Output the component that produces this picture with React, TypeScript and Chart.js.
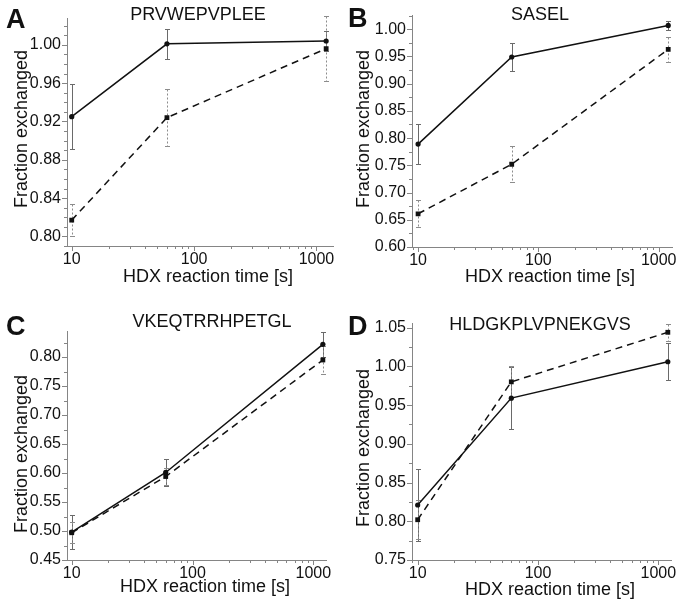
import React, { useEffect, useRef } from "react";
import { Chart, registerables } from "chart.js";

Chart.register(...registerables);

// ---------- data ----------
const times = [10, 60, 1200];
const panelLetters = ["A", "B", "C", "D"];
const peptides = ["PRVWEPVPLEE", "SASEL", "VKEQTRRHPETGL", "HLDGKPLVPNEKGVS"];
const xAxisTitle = "HDX reaction time [s]";
const yAxisTitle = "Fraction exchanged";

const solidA = [0.925, 1.001, 1.004];
const solidErrA = [0.034, 0.016, 0.010];
const dashA = [0.817, 0.924, 0.996];
const dashErrA = [0.017, 0.030, 0.034];

const solidB = [0.789, 0.949, 1.007];
const solidErrB = [0.037, 0.026, 0.009];
const dashB = [0.661, 0.752, 0.963];
const dashErrB = [0.025, 0.033, 0.023];

const solidC = [0.498, 0.601, 0.822];
const solidErrC = [0.029, 0.024, 0.022];
const dashC = [0.497, 0.594, 0.795];
const dashErrC = [0.018, 0.015, 0.024];

const solidD = [0.821, 0.959, 1.006];
const solidErrD = [0.046, 0.040, 0.024];
const dashD = [0.802, 0.980, 1.044];
const dashErrD = [0.025, 0.020, 0.011];

const yMins = [0.79, 0.6, 0.45, 0.75];
const yMaxs = [1.028, 1.025, 0.845, 1.056];
const yMajorSteps = [0.04, 0.05, 0.05, 0.05];
const yMinorSteps = [0.01, 0.025, 0.025, 0.025];
const xMins = [9.15, 8.9, 9.14, 8.97];
const xMaxs = [1365, 1290, 1274, 1275];

const solidSeries = [solidA, solidB, solidC, solidD];
const solidErrs = [solidErrA, solidErrB, solidErrC, solidErrD];
const dashSeries = [dashA, dashB, dashC, dashD];
const dashErrs = [dashErrA, dashErrB, dashErrC, dashErrD];

// ---------- layout / style ----------
const FF = "'Liberation Sans', Arial, Helvetica, sans-serif";
const TEXT = "#111111";
const AXIS = "#858585";

const LAYOUTS = [
  { x: 0, y: 0, w: 342, h: 300, left: 67, right: 333, top: 18, bottom: 246, letterX: 6, letterY: 28, titleX: 198, titleY: 15, xtX: 208, xtY: 277, ytX: 22, ytY: 129 },
  { x: 342, y: 0, w: 341, h: 300, left: 70, right: 330, top: 15, bottom: 247, letterX: 6, letterY: 27, titleX: 198, titleY: 15, xtX: 208, xtY: 277, ytX: 22, ytY: 129 },
  { x: 0, y: 300, w: 342, h: 309, left: 67, right: 326, top: 31, bottom: 260, letterX: 6, letterY: 35, titleX: 212, titleY: 22, xtX: 205, xtY: 287, ytX: 22, ytY: 154 },
  { x: 342, y: 300, w: 341, h: 309, left: 70, right: 329, top: 23, bottom: 260, letterX: 6, letterY: 35, titleX: 198, titleY: 25, xtX: 208, xtY: 290, ytX: 22, ytY: 148 },
];

function niceMantissa(v: number) {
  const e = Math.floor(Math.log10(v) + 1e-9);
  const m = v / Math.pow(10, e);
  return { m, ok: Math.abs(m - Math.round(m)) < 1e-6 };
}

function logTicks(min: number, max: number) {
  const out: number[] = [];
  for (let e = Math.floor(Math.log10(min)); e <= Math.ceil(Math.log10(max)); e++) {
    for (let m = 1; m <= 9; m++) {
      const v = m * Math.pow(10, e);
      if (v >= min - 1e-9 && v <= max + 1e-9) out.push(v);
    }
  }
  return out;
}

function linTicks(min: number, max: number, step: number) {
  const out: number[] = [];
  const s = Math.ceil(min / step - 1e-9);
  const e = Math.floor(max / step + 1e-9);
  for (let i = s; i <= e; i++) out.push(Math.round(i * step * 1e6) / 1e6);
  return out;
}

function isMultiple(v: number, step: number) {
  const r = v / step;
  return Math.abs(r - Math.round(r)) < 1e-6;
}

function Panel({ idx }: { idx: number }) {
  const ref = useRef<HTMLCanvasElement>(null);
  const L = LAYOUTS[idx];

  useEffect(() => {
    const canvas = ref.current;
    if (!canvas) return;
    const xmin = xMins[idx];
    const xmax = xMaxs[idx];
    const ymin = yMins[idx];
    const ymax = yMaxs[idx];
    const major = yMajorSteps[idx];
    const minor = yMinorSteps[idx];
    const errs = [solidErrs[idx], dashErrs[idx]];
    const errStyles = [
      { color: "#6a6a6a", dash: [] as number[] },
      { color: "#8c8c8c", dash: [2, 2] },
    ];

    const decor = {
      id: "decor" + idx,
      beforeDatasetsDraw(chart: any) {
        const ctx = chart.ctx;
        const xs = chart.scales.x;
        const ys = chart.scales.y;
        chart.data.datasets.forEach((ds: any, di: number) => {
          const st = errStyles[di];
          ctx.save();
          ctx.strokeStyle = st.color;
          ctx.lineWidth = 1;
          ctx.setLineDash(st.dash);
          ds.data.forEach((p: any, i: number) => {
            const e = errs[di][i];
            const px = Math.round(xs.getPixelForValue(p.x)) + 0.5;
            const yT = Math.round(ys.getPixelForValue(p.y + e)) + 0.5;
            const yB = Math.round(ys.getPixelForValue(p.y - e)) + 0.5;
            ctx.beginPath();
            ctx.moveTo(px, yT);
            ctx.lineTo(px, yB);
            ctx.stroke();
            ctx.setLineDash([]);
            ctx.beginPath();
            ctx.moveTo(px - 2.5, yT);
            ctx.lineTo(px + 2.5, yT);
            ctx.moveTo(px - 2.5, yB);
            ctx.lineTo(px + 2.5, yB);
            ctx.stroke();
            ctx.setLineDash(st.dash);
          });
          ctx.restore();
        });
      },
      afterDraw(chart: any) {
        const ctx = chart.ctx;
        const xs = chart.scales.x;
        const ys = chart.scales.y;
        const area = chart.chartArea;
        ctx.save();
        ctx.strokeStyle = AXIS;
        ctx.lineWidth = 1;
        ctx.beginPath();
        xs.ticks.forEach((t: any) => {
          const { m, ok } = niceMantissa(t.value);
          if (!ok) return;
          const isMajor = Math.abs(m - 1) < 1e-6;
          const px = Math.round(xs.getPixelForValue(t.value)) + 0.5;
          ctx.moveTo(px, area.bottom);
          ctx.lineTo(px, area.bottom + (isMajor ? 5 : 3));
        });
        ys.ticks.forEach((t: any) => {
          if (!isMultiple(t.value, minor)) return;
          const isMajor = isMultiple(t.value, major);
          const py = Math.round(ys.getPixelForValue(t.value)) + 0.5;
          ctx.moveTo(area.left, py);
          ctx.lineTo(area.left - (isMajor ? 5 : 3), py);
        });
        ctx.stroke();

        ctx.fillStyle = TEXT;
        ctx.textAlign = "left";
        ctx.textBaseline = "alphabetic";
        ctx.font = `bold 27px ${FF}`;
        ctx.fillText(panelLetters[idx], L.letterX, L.letterY);

        ctx.font = `18px ${FF}`;
        ctx.textAlign = "center";
        ctx.textBaseline = "middle";
        ctx.fillText(peptides[idx], L.titleX, L.titleY);
        ctx.fillText(xAxisTitle, L.xtX, L.xtY);

        ctx.translate(L.ytX, L.ytY);
        ctx.rotate(-Math.PI / 2);
        ctx.fillText(yAxisTitle, 0, 0);
        ctx.restore();
      },
    };

    const chart = new Chart(canvas, {
      type: "line",
      data: {
        datasets: [
          {
            data: times.map((t, i) => ({ x: t, y: solidSeries[idx][i] })),
            borderColor: "#111",
            borderWidth: 1.5,
            backgroundColor: "#111",
            pointStyle: "circle",
            pointRadius: 2.6,
            pointBorderWidth: 0,
            pointBackgroundColor: "#111",
            fill: false,
            tension: 0,
          },
          {
            data: times.map((t, i) => ({ x: t, y: dashSeries[idx][i] })),
            borderColor: "#111",
            borderWidth: 1.5,
            borderDash: [7, 5],
            backgroundColor: "#111",
            pointStyle: "rect",
            pointRadius: 3.4,
            pointBorderWidth: 0,
            pointBackgroundColor: "#111",
            fill: false,
            tension: 0,
          },
        ],
      },
      options: {
        responsive: false,
        animation: false,
        events: [],
        layout: { padding: { left: 0, top: L.top, right: L.w - L.right, bottom: 0 } },
        plugins: {
          legend: { display: false },
          tooltip: { enabled: false },
          title: { display: false },
        },
        scales: {
          x: {
            type: "logarithmic",
            min: xmin,
            max: xmax,
            grid: { display: false, drawTicks: false },
            border: { display: true, color: AXIS, width: 1 },
            ticks: {
              autoSkip: false,
              maxRotation: 0,
              minRotation: 0,
              padding: 4,
              color: TEXT,
              font: { family: FF, size: 16 },
              callback: (v: any) => {
                const n = Number(v);
                const lg = Math.log10(n);
                return Math.abs(lg - Math.round(lg)) < 1e-9 ? String(Math.round(n)) : "";
              },
            },
            afterBuildTicks: (s: any) => {
              s.ticks = logTicks(xmin, xmax).map((value) => ({ value }));
            },
            afterFit: (s: any) => {
              s.height = L.h - L.bottom;
            },
          },
          y: {
            type: "linear",
            min: ymin,
            max: ymax,
            grid: { display: false, drawTicks: false },
            border: { display: true, color: AXIS, width: 1 },
            ticks: {
              autoSkip: false,
              padding: 6,
              color: TEXT,
              font: { family: FF, size: 16 },
              callback: (v: any) => (isMultiple(Number(v), major) ? Number(v).toFixed(2) : ""),
            },
            afterBuildTicks: (s: any) => {
              s.ticks = linTicks(ymin, ymax, minor).map((value) => ({ value }));
            },
            afterFit: (s: any) => {
              s.width = L.left;
            },
          },
        },
      },
      plugins: [decor],
    } as any);
    return () => chart.destroy();
  }, [idx]);

  return (
    <canvas
      ref={ref}
      width={L.w}
      height={L.h}
      style={{ position: "absolute", left: L.x, top: L.y, width: L.w, height: L.h }}
    />
  );
}

export default function App() {
  return (
    <div style={{ position: "absolute", left: 0, top: 0, width: 683, height: 609, background: "#fff" }}>
      {[0, 1, 2, 3].map((i) => (
        <Panel key={i} idx={i} />
      ))}
    </div>
  );
}
